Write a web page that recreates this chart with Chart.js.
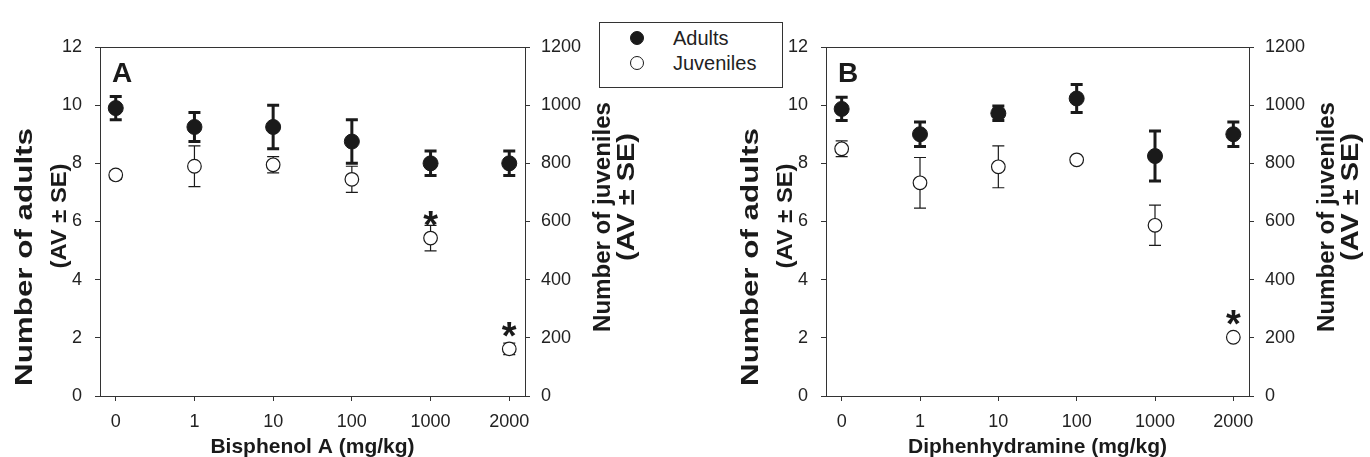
<!DOCTYPE html>
<html>
<head>
<meta charset="utf-8">
<script src="https://cdn.jsdelivr.net/npm/chart.js@4.4.1/dist/chart.umd.min.js"></script>
<style>
  html, body { margin: 0; padding: 0; background: #fff; }
  #wrap { position: relative; width: 1370px; height: 457px; overflow: hidden; font-family: "Liberation Sans", Arial, sans-serif; }
  #wrap canvas { position: absolute; top: 0; }
  #chartA { left: 0; }
  #chartB { left: 685px; }
  .legend { position: absolute; left: 599px; top: 22px; width: 182px; height: 64px; border: 1px solid #333; background: #fff; color: #222; font-size: 20px; }
  .legend .row { position: absolute; left: 0; height: 24px; line-height: 24px; }
  .legend .dot { position: absolute; left: 30px; top: 5px; width: 14px; height: 14px; border-radius: 50%; box-sizing: border-box; border: 1.2px solid #1a1a1a; }
  .legend .txt { position: absolute; left: 73px; top: 0; white-space: nowrap; }
</style>
</head>
<body>
<div id="wrap">
  <canvas id="chartA" width="685" height="457"></canvas>
  <canvas id="chartB" width="685" height="457"></canvas>
  <div class="legend" id="legend"></div>
</div>
<script>
const doses         = ['0', '1', '10', '100', '1000', '2000']
const seriesNames   = ['Adults', 'Juveniles']
const adultTicks    = [0, 2, 4, 6, 8, 10, 12]
const juvenileTicks = [0, 200, 400, 600, 800, 1000, 1200]

// A: Bisphenol A
const bpaAdults      = [9.9, 9.25, 9.25, 8.75, 8.0, 8.0]
const bpaAdultsSE    = [0.4, 0.5, 0.75, 0.75, 0.42, 0.42]
const bpaJuveniles   = [760, 790, 795, 745, 543, 162]
const bpaJuvenilesSE = [15, 70, 28, 45, 44, 20]
const bpaSignif      = [false, false, false, false, true, true]

// B: Diphenhydramine
const dphAdults      = [9.87, 9.0, 9.72, 10.23, 8.25, 9.0]
const dphAdultsSE    = [0.4, 0.42, 0.25, 0.48, 0.86, 0.42]
const dphJuveniles   = [850, 733, 788, 812, 587, 202]
const dphJuvenilesSE = [27, 87, 72, 8, 69, 8]
const dphSignif      = [false, false, false, false, false, true]

const FONT = '"Liberation Sans", Arial, sans-serif'
const INK  = '#1a1a1a'

function vtext(ctx, text, cx, cy, size, len) {
  ctx.save()
  ctx.font = `bold ${size}px ${FONT}`
  const w = ctx.measureText(text).width
  ctx.translate(cx, cy)
  ctx.rotate(-Math.PI / 2)
  ctx.scale(len / w, 1)
  ctx.textAlign = 'center'
  ctx.textBaseline = 'middle'
  ctx.fillStyle = INK
  ctx.fillText(text, 0, 0)
  ctx.restore()
}

const errorBars = {
  id: 'errorBars',
  beforeDatasetsDraw(chart, args, opts) {
    const ctx = chart.ctx
    const x = chart.scales.x
    opts.bars.forEach(b => {
      const y = chart.scales[b.axis]
      ctx.save()
      ctx.strokeStyle = INK
      ctx.lineWidth = b.width
      b.values.forEach((v, i) => {
        const px  = x.getPixelForValue(i)
        const top = y.getPixelForValue(v + b.se[i])
        const bot = y.getPixelForValue(v - b.se[i])
        ctx.beginPath()
        ctx.moveTo(px, top); ctx.lineTo(px, bot)
        ctx.moveTo(px - b.cap, top); ctx.lineTo(px + b.cap, top)
        ctx.moveTo(px - b.cap, bot); ctx.lineTo(px + b.cap, bot)
        ctx.stroke()
      })
      ctx.restore()
    })
  }
}

const decor = {
  id: 'decor',
  afterDraw(chart, args, o) {
    const ctx = chart.ctx
    const a = chart.chartArea
    const x = chart.scales.x, y2 = chart.scales.y2
    ctx.save()
    // top frame line
    ctx.strokeStyle = '#333'
    ctx.lineWidth = 1
    ctx.beginPath()
    ctx.moveTo(a.left, Math.round(a.top) + 0.5)
    ctx.lineTo(a.right, Math.round(a.top) + 0.5)
    ctx.stroke()

    // panel letter
    ctx.fillStyle = INK
    ctx.font = `bold 28px ${FONT}`
    ctx.textAlign = 'left'
    ctx.textBaseline = 'alphabetic'
    ctx.fillText(o.letter, a.left + o.letterDx, 82)

    // significance stars
    ctx.font = `bold 38px ${FONT}`
    ctx.textAlign = 'center'
    o.signif.forEach((s, i) => {
      if (!s) return
      const px = x.getPixelForValue(i)
      const py = y2.getPixelForValue(o.juveniles[i]) - 22
      ctx.fillText('*', px, py + 0.57 * 38)
    })

    // x title
    ctx.font = `bold 21px ${FONT}`
    ctx.textAlign = 'center'
    ctx.fillText(o.xTitle, (a.left + a.right) / 2, 453)
    ctx.restore()

    // y titles
    vtext(ctx, 'Number of adults', a.left - 74, 257, 23, 258)
    vtext(ctx, '(AV ± SE)', a.left - 40, 216, 22, 105)
    vtext(ctx, 'Number of juveniles', a.right + 78, 217, 24, 230)
    vtext(ctx, '(AV ± SE)', a.right + 102, 197, 24, 128)
  }
}

function makePanel(id, cfg) {
  const axisBase = {
    grid:   { display: true, drawOnChartArea: false, drawTicks: true, tickLength: 5, color: '#333', lineWidth: 1 },
    border: { display: true, color: '#333', width: 1 },
  }
  return new Chart(document.getElementById(id), {
    type: 'scatter',
    data: {
      datasets: [{
        label:           seriesNames[0],
        data:            cfg.adults.map((v, i) => ({ x: i, y: v })),
        yAxisID:         'y',
        pointRadius:     7.5,
        backgroundColor: INK,
        borderColor:     INK,
        borderWidth:     1,
      }, {
        label:           seriesNames[1],
        data:            cfg.juveniles.map((v, i) => ({ x: i, y: v })),
        yAxisID:         'y2',
        pointRadius:     6.8,
        backgroundColor: '#fff',
        borderColor:     INK,
        borderWidth:     1.2,
      }],
    },
    options: {
      responsive:       false,
      animation:        false,
      devicePixelRatio: 1,
      events:           [],
      layout: { padding: { top: 47, left: 0, right: 0, bottom: 0 } },
      plugins: {
        legend:  { display: false },
        tooltip: { enabled: false },
        errorBars: {
          bars: [
            { axis: 'y2', values: cfg.juveniles, se: cfg.juvenilesSE, width: 1.2, cap: 6 },
            { axis: 'y',  values: cfg.adults,    se: cfg.adultsSE,    width: 3,   cap: 6 },
          ],
        },
        decor: {
          letter: cfg.letter, letterDx: cfg.letterDx, xTitle: cfg.xTitle,
          signif: cfg.signif, juveniles: cfg.juveniles,
        },
      },
      scales: {
        x: {
          ...axisBase,
          type: 'linear', position: 'bottom', min: -0.2, max: 5.2,
          afterBuildTicks: s => { s.ticks = doses.map((d, i) => ({ value: i })) },
          afterFit: s => { s.height = 61 },
          ticks: { autoSkip: false, maxRotation: 0, padding: 10, color: '#222', font: { family: FONT, size: 18 },
                   callback: v => doses[v] },
        },
        y: {
          ...axisBase,
          position: 'left', min: 0, max: 12,
          afterBuildTicks: s => { s.ticks = adultTicks.map(v => ({ value: v })) },
          afterFit: s => { s.width = cfg.left },
          ticks: { padding: 13, color: '#222', font: { family: FONT, size: 18 }, callback: v => String(v) },
        },
        y2: {
          ...axisBase,
          position: 'right', min: 0, max: 1200,
          afterBuildTicks: s => { s.ticks = juvenileTicks.map(v => ({ value: v })) },
          afterFit: s => { s.width = cfg.right },
          ticks: { padding: 11, color: '#222', font: { family: FONT, size: 18 }, callback: v => String(v) },
        },
      },
    },
    plugins: [errorBars, decor],
  })
}

makePanel('chartA', {
  letter: 'A', letterDx: 12, xTitle: 'Bisphenol A (mg/kg)', left: 100, right: 160,
  adults: bpaAdults, adultsSE: bpaAdultsSE, juveniles: bpaJuveniles, juvenilesSE: bpaJuvenilesSE, signif: bpaSignif,
})
makePanel('chartB', {
  letter: 'B', letterDx: 12, xTitle: 'Diphenhydramine (mg/kg)', left: 141, right: 121,
  adults: dphAdults, adultsSE: dphAdultsSE, juveniles: dphJuveniles, juvenilesSE: dphJuvenilesSE, signif: dphSignif,
})

// legend box
const legend = document.getElementById('legend')
seriesNames.forEach((name, i) => {
  const row = document.createElement('div')
  row.className = 'row'
  row.style.top = (3 + i * 25) + 'px'
  const dot = document.createElement('span')
  dot.className = 'dot'
  dot.style.background = i === 0 ? INK : '#fff'
  const txt = document.createElement('span')
  txt.className = 'txt'
  txt.textContent = name
  row.appendChild(dot)
  row.appendChild(txt)
  legend.appendChild(row)
})
</script>
</body>
</html>
